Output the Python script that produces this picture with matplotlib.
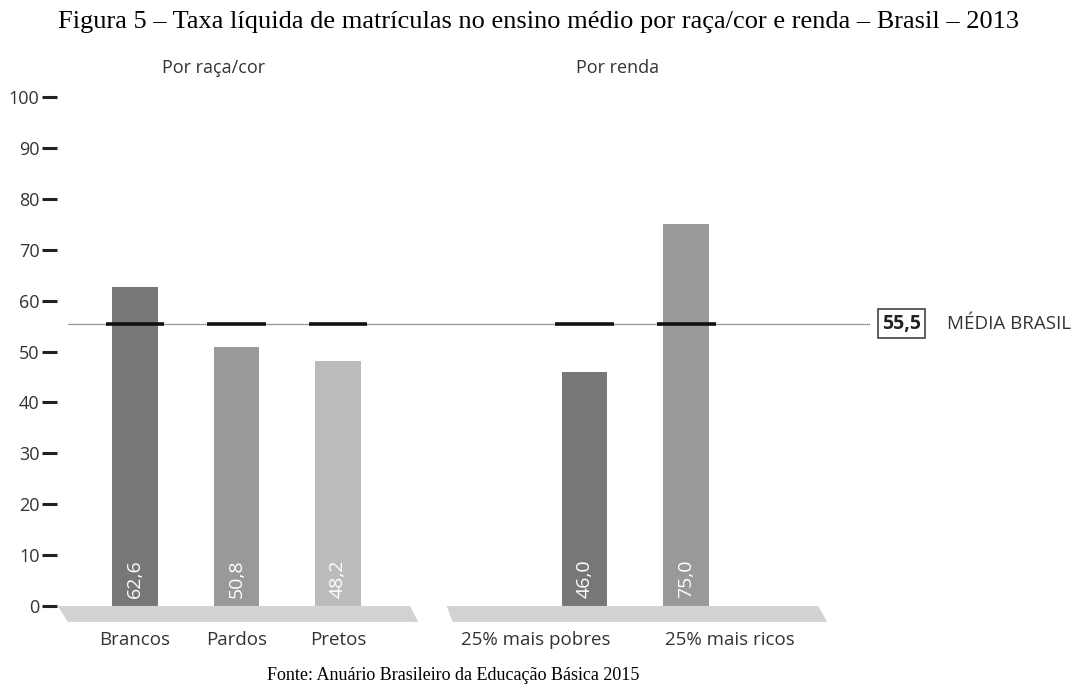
import matplotlib.pyplot as plt
from matplotlib.patches import Polygon

# data
categories = ["Brancos", "Pardos", "Pretos", "25% mais pobres", "25% mais ricos"]
values = [62.6, 50.8, 48.2, 46.0, 75.0]
value_labels = ["62,6", "50,8", "48,2", "46,0", "75,0"]
media_brasil = 55.5
media_label = "55,5"
groups = ["Por raça/cor", "Por renda"]
yticks = [0, 10, 20, 30, 40, 50, 60, 70, 80, 90, 100]

positions = [0, 1, 2, 4.43, 5.43]
label_pos = [0, 1, 2, 3.95, 5.86]
bar_colors = ["#777777", "#999999", "#bbbbbb", "#777777", "#999999"]
text_col = "#333333"
sans = "Open Sans"

fig = plt.figure(figsize=(10.78, 6.86), dpi=100)
ax = fig.add_axes([57 / 1078, 0, 1 - 57 / 1078, 1])
ax.set_xlim(-0.768, 9.29)
ax.set_ylim(-15.7, 119.05)
for s in ax.spines.values():
    s.set_visible(False)
ax.set_xticks([])
ax.set_yticks(yticks)
ax.set_yticklabels([str(t) for t in yticks], fontsize=13, family=sans, color=text_col)
ax.tick_params(axis="y", direction="out", length=11, width=2.2, color="#222222", pad=1.5)

# floor
floor_col = "#d2d2d2"
ax.add_patch(Polygon([(-0.76, 0), (2.71, 0), (2.79, -3.1), (-0.66, -3.1)],
                     closed=True, fc=floor_col, ec="none", zorder=1))
ax.add_patch(Polygon([(3.07, 0), (6.73, 0), (6.82, -3.1), (3.13, -3.1)],
                     closed=True, fc=floor_col, ec="none", zorder=1))

# bars
ax.bar(positions, values, width=0.45, color=bar_colors, zorder=2)
for p, lab in zip(positions, value_labels):
    ax.text(p, 1.6, lab, rotation=90, ha="center", va="bottom", color="white",
            fontsize=14, family=sans, zorder=4)

# media line
ax.plot([-0.66, 7.24], [media_brasil, media_brasil], color="#555555", lw=0.9,
        ls=(0, (1, 0.6)), zorder=3)
for p in positions:
    ax.plot([p - 0.29, p + 0.29], [media_brasil, media_brasil], color="#111111",
            lw=2.6, solid_capstyle="butt", zorder=4)
ax.text(7.55, media_brasil, media_label, ha="center", va="center", fontsize=14,
        fontweight="bold", family=sans, color="#222222",
        bbox=dict(boxstyle="square,pad=0.22", fc="white", ec="#333333", lw=1.1))
ax.text(8.0, media_brasil, "MÉDIA BRASIL", ha="left", va="center", fontsize=13.5,
        family=sans, color=text_col)

# category labels
for p, c in zip(label_pos, categories):
    ax.text(p, -6.7, c, ha="center", va="center", fontsize=13.5, family=sans, color=text_col)

# group labels
ax.text(0.77, 105.7, groups[0], ha="center", va="center", fontsize=13, family=sans, color=text_col)
ax.text(4.75, 105.7, groups[1], ha="center", va="center", fontsize=13, family=sans, color=text_col)

fig.text(0.5, 1 - 22 / 686,
         "Figura 5 – Taxa líquida de matrículas no ensino médio por raça/cor e renda – Brasil – 2013",
         ha="center", va="center", fontsize=19, family="Liberation Serif", color="black")
fig.text(453 / 1078, 1 - 676 / 686, "Fonte: Anuário Brasileiro da Educação Básica 2015",
         ha="center", va="center", fontsize=13, family="Liberation Serif", color="black")

fig.savefig("out.png", dpi=100)
